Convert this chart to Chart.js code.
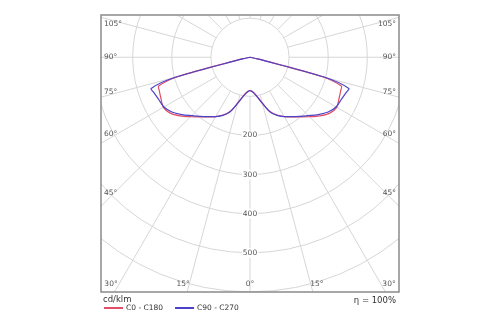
<!DOCTYPE html>
<html>
<head>
<meta charset="utf-8">
<script src="https://cdn.jsdelivr.net/npm/chart.js@4.4.0/dist/chart.umd.min.js"></script>
<style>
  html, body { margin: 0; padding: 0; background: #fff; }
  #wrap { width: 500px; height: 325px; }
</style>
</head>
<body>
<div id="wrap"><canvas id="polarChart"></canvas></div>
<script>
// gamma angles, degrees from nadir, and luminous intensity in cd/klm
const gammaAngles = [0, 5, 10, 15, 20, 25, 30, 35, 40, 45, 50, 55, 60, 65, 70, 72.5, 75, 77.5, 80, 90, 180]
const c0c180 = [85, 89, 101, 121, 147, 163, 175, 186, 199, 215, 233, 249, 256, 251, 247, 245, 190, 20, 0, 0, 0]
const c90c270 = [85, 90, 102, 122, 148, 164, 175, 185, 197, 211, 228, 244, 254, 257, 262, 265, 200, 20, 0, 0, 0]

const seriesNames = ['C0 - C180', 'C90 - C270']
const seriesColors = ['#e04e66', '#4c42c8']

// polar grid
const ringValues = [100, 200, 300, 400, 500, 600]
const ringLabels = [200, 300, 400, 500]
const spokeStep = 15
const sideAngleLabels = [105, 90, 75, 60, 45]
const bottomAngleLabels = [30, 15, 0]

const unitLabel = 'cd/klm'
const efficiencyLabel = 'η = 100%'

const FONT = '"DejaVu Sans", Verdana, sans-serif'

// turn a (gamma, I) curve into a closed loop: one half plane on the right, the other mirrored on the left
function toPoints(angles, values) {
    let pts = []
    for (let i = 0; i < angles.length; i++) {
        let a = angles[i] * Math.PI / 180
        pts.push({ x: values[i] * Math.sin(a), y: -values[i] * Math.cos(a) })
    }
    for (let i = angles.length - 1; i >= 0; i--) {
        let a = angles[i] * Math.PI / 180
        pts.push({ x: -values[i] * Math.sin(a), y: -values[i] * Math.cos(a) })
    }
    return pts
}

const polarGrid = {
    id: 'polarGrid',
    beforeDatasetsDraw(chart) {
        const { ctx, chartArea: area, scales } = chart
        const cx = scales.x.getPixelForValue(0)
        const cy = scales.y.getPixelForValue(0)
        const px = v => scales.x.getPixelForValue(v) - cx

        ctx.save()
        ctx.beginPath()
        ctx.rect(area.left, area.top, area.right - area.left, area.bottom - area.top)
        ctx.clip()

        ctx.strokeStyle = '#d6d6d6'
        ctx.lineWidth = 1
        ringValues.forEach(r => {
            ctx.beginPath()
            ctx.arc(cx, cy, px(r), 0, Math.PI * 2)
            ctx.stroke()
        })
        // spokes start at the first ring
        const r0 = px(ringValues[0])
        const r1 = px(2000)
        for (let g = 0; g < 360; g += spokeStep) {
            let a = g * Math.PI / 180
            let dx = Math.sin(a), dy = Math.cos(a)
            ctx.beginPath()
            ctx.moveTo(cx + dx * r0, cy + dy * r0)
            ctx.lineTo(cx + dx * r1, cy + dy * r1)
            ctx.stroke()
        }

        // ring values along the nadir line
        ctx.font = '7.5px ' + FONT
        ctx.textAlign = 'center'
        ctx.textBaseline = 'middle'
        ringLabels.forEach(r => {
            let y = cy + px(r)
            let w = ctx.measureText(String(r)).width
            ctx.fillStyle = '#fff'
            ctx.fillRect(cx - w / 2 - 1, y - 5, w + 2, 10)
            ctx.fillStyle = '#555'
            ctx.fillText(String(r), cx, y)
        })

        // angle labels on the left and right edges
        sideAngleLabels.forEach(g => {
            let a = g * Math.PI / 180
            let t = (cx - area.left) / Math.sin(a)
            let y = cy + Math.cos(a) * (t - 18)
            y = Math.max(y, area.top + 9)
            ctx.fillStyle = '#555'
            ctx.textAlign = 'left'
            ctx.fillText(g + '°', area.left + 3, y)
            ctx.textAlign = 'right'
            ctx.fillText(g + '°', area.right - 3, y)
        })
        // angle labels along the bottom edge
        bottomAngleLabels.forEach(g => {
            let a = g * Math.PI / 180
            let off = (area.bottom - cy) * Math.tan(a)
            let y = area.bottom - 8
            ctx.fillStyle = '#555'
            ctx.textAlign = 'center'
            if (g === 0) {
                ctx.fillText('0°', cx, y)
            } else {
                let xl = Math.max(cx - off - 4, area.left + 10)
                let xr = Math.min(cx + off + 4, area.right - 10)
                ctx.fillText(g + '°', xl, y)
                ctx.fillText(g + '°', xr, y)
            }
        })
        ctx.restore()
    },
    afterDraw(chart) {
        const { ctx, chartArea: area } = chart
        ctx.save()
        ctx.strokeStyle = '#8a8a8a'
        ctx.lineWidth = 1.5
        ctx.strokeRect(area.left, area.top, area.right - area.left, area.bottom - area.top)

        // unit, legend and efficiency below the frame
        ctx.font = '8.5px ' + FONT
        ctx.textBaseline = 'middle'
        ctx.fillStyle = '#333'
        ctx.textAlign = 'left'
        ctx.fillText(unitLabel, area.left + 2, area.bottom + 8)
        ctx.textAlign = 'right'
        ctx.fillText(efficiencyLabel, area.right - 3, area.bottom + 9)

        ctx.font = '7.5px ' + FONT
        let x = area.left + 3
        let y = area.bottom + 16
        ctx.textAlign = 'left'
        chart.data.datasets.forEach(ds => {
            ctx.strokeStyle = ds.borderColor
            ctx.lineWidth = 2
            ctx.beginPath()
            ctx.moveTo(x, y)
            ctx.lineTo(x + 19, y)
            ctx.stroke()
            ctx.fillStyle = '#333'
            ctx.fillText(ds.label, x + 22, y)
            x += 22 + ctx.measureText(ds.label).width + 12
        })
        ctx.restore()
    }
}

new Chart(document.getElementById('polarChart'), {
    type: 'scatter',
    data: {
        datasets: [
            {
                label: seriesNames[0],
                data: toPoints(gammaAngles, c0c180),
                borderColor: seriesColors[0],
                borderWidth: 1.2,
                showLine: true,
                tension: 0.3,
                pointRadius: 0,
                order: 2
            },
            {
                label: seriesNames[1],
                data: toPoints(gammaAngles, c90c270),
                borderColor: seriesColors[1],
                borderWidth: 1.2,
                showLine: true,
                tension: 0.3,
                pointRadius: 0,
                order: 1
            }
        ]
    },
    options: {
        responsive: true,
        maintainAspectRatio: false,
        animation: false,
        layout: { padding: { left: 101, right: 101, top: 15, bottom: 33 } },
        scales: {
            x: { display: false, min: -381, max: 381 },
            y: { display: false, min: -600, max: 108 }
        },
        plugins: {
            legend: { display: false },
            tooltip: { enabled: false }
        }
    },
    plugins: [polarGrid]
});
</script>
</body>
</html>
